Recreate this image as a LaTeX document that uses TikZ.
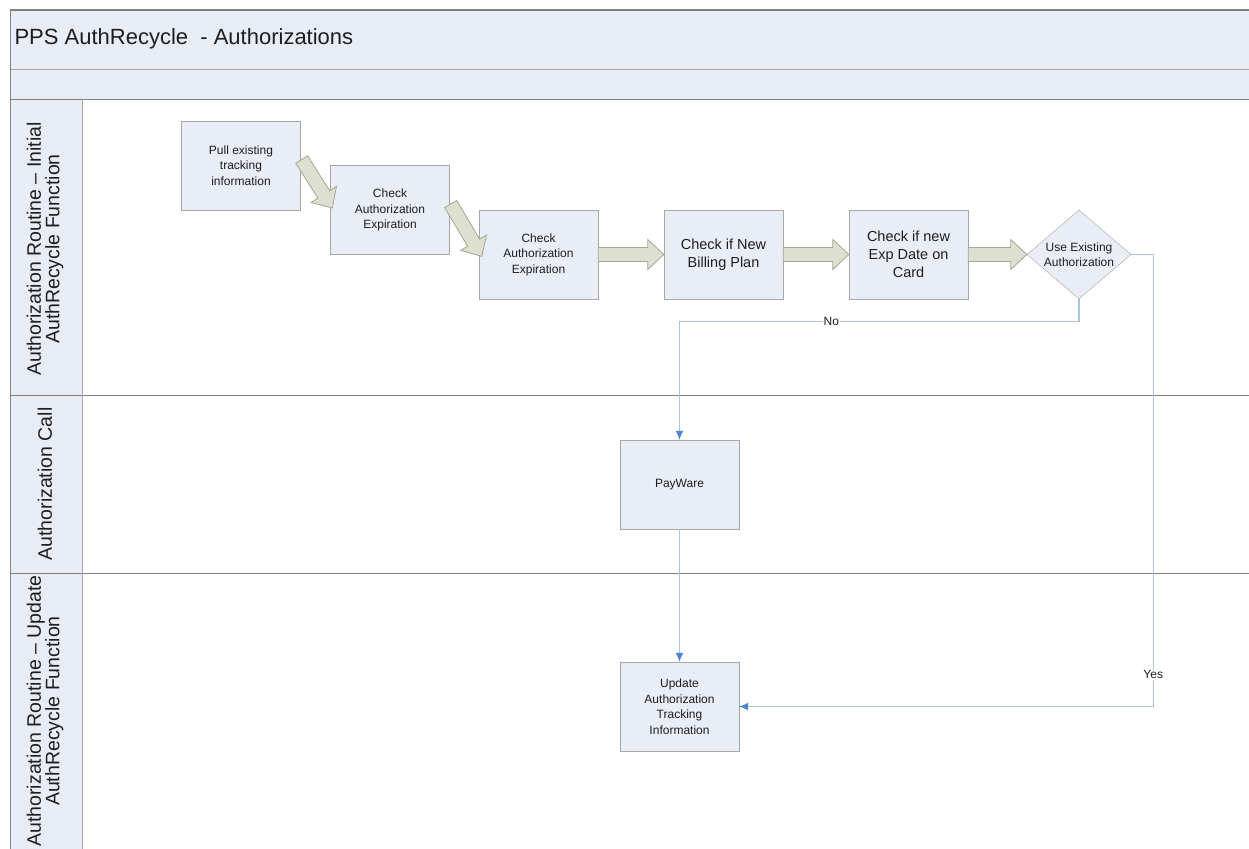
\documentclass[tikz,border=0pt]{standalone}
\usepackage{fontspec}
\setmainfont{Liberation Sans}
\usetikzlibrary{shapes.geometric,calc,arrows.meta}
\definecolor{bandfill}{HTML}{E8ECF4}
\definecolor{boxfill}{HTML}{E9EDF5}
\definecolor{boxline}{HTML}{A6A6A6}
\definecolor{laneline}{HTML}{808080}
\definecolor{conline}{HTML}{A9C4E4}
\definecolor{conhead}{HTML}{4F87CC}
\definecolor{blkfill}{HTML}{DDE0CE}
\definecolor{blkline}{HTML}{A3A595}
\definecolor{txt}{HTML}{1E1E1E}
\newcommand\blockarrow[2]{%
  \draw[blockarr] let \p1=(#1), \p2=(#2), \n1={atan2(\y2-\y1,\x2-\x1)}, \n2={veclen(\x2-\x1,\y2-\y1)} in
   {[shift={(\p1)}, rotate=\n1] (0,-7) -- (\n2-16,-7) -- (\n2-16,-15) -- (\n2,0) -- (\n2-16,15) -- (\n2-16,7) -- (0,7) -- cycle};}
\begin{document}
\begin{tikzpicture}[x=1pt,y=-1pt,
  procbox/.style={draw=boxline, fill=boxfill, minimum width=119pt, minimum height=89pt, inner sep=2pt, align=center, text=txt, font=\fontsize{12}{15.5}\selectfont},
  bigtext/.style={font=\fontsize{14.5}{18}\selectfont},
  lanelbl/.style={rotate=90, align=center, text=txt, font=\fontsize{19.5}{18.5}\selectfont},
  blockarr/.style={draw=blkline, fill=blkfill, line width=0.8pt, line join=miter},
  conn/.style={draw=conline, line width=1.1pt, -{Latex[length=9pt,width=8pt,color=conhead,fill=conhead]}},
  connlbl/.style={fill=white, inner sep=1pt, text=txt, font=\fontsize{12}{14}\selectfont}]
\useasboundingbox (0,0) rectangle (1249,848);
% pool frame
\path[fill=bandfill] (10,10) rectangle (1260,99);
\path[fill=bandfill] (10,99) rectangle (82,880);
\draw[laneline, line width=1.5pt] (10,10) -- (1260,10);
\draw[boxline] (10,69) -- (1260,69);
\draw[laneline] (10,99) -- (1260,99);
\draw[laneline] (10,395) -- (1260,395);
\draw[laneline] (10,573) -- (1260,573);
\draw[boxline] (82,99) -- (82,880);
\draw[laneline] (10,10) -- (10,880);
\node[anchor=west, text=txt, font=\fontsize{22}{26}\selectfont] (title) at (11,39) {PPS AuthRecycle\ \ - Authorizations};
% lane labels
\node[lanelbl] (lane1) at (45,249) {Authorization Routine – Initial\\AuthRecycle Function};
\node[lanelbl] (lane2) at (45,484) {Authorization Call};
\node[lanelbl] (lane3) at (45,711) {Authorization Routine – Update\\AuthRecycle Function};
% process boxes
\node[procbox] (pull) at (241,165.5) {Pull existing\\tracking\\information};
\node[procbox] (check1) at (390,210) {Check\\Authorization\\Expiration};
\node[procbox] (check2) at (538.5,254.5) {Check\\Authorization\\Expiration};
\node[procbox, bigtext] (billing) at (723.5,254.5) {Check if New\\Billing Plan};
\node[procbox, bigtext] (expdate) at (908.5,254.5) {Check if new\\Exp Date on\\Card};
\node[diamond, draw=boxline, fill=boxfill, minimum width=104pt, minimum height=89pt, inner sep=0pt] (dia) at (1079,254.5) {};
\node[align=center, text=txt, inner sep=0pt, font=\fontsize{12}{14.5}\selectfont] (dialbl) at (dia) {Use Existing\\Authorization};
\node[procbox] (payware) at (679.5,484.5) {PayWare};
\node[procbox] (update) at (679.5,706.5) {Update\\Authorization\\Tracking\\Information};
% block arrows
\coordinate (a1s) at ([xshift=1pt,yshift=6pt]pull.east);
\coordinate (a1e) at ([xshift=2pt,yshift=2pt]check1.west);
\coordinate (a2s) at ([xshift=1pt,yshift=6pt]check1.east);
\coordinate (a2e) at ([xshift=3pt,yshift=-2pt]check2.west);
\blockarrow{a1s}{a1e}
\blockarrow{a2s}{a2e}
\blockarrow{check2.east}{billing.west}
\blockarrow{billing.east}{expdate.west}
\blockarrow{expdate.east}{dia.west}
% connectors
\draw[conn] (dia.south) -- ++(0,22) -| node[connlbl, pos=0.31] (nolbl) {No} (payware.north);
\draw[conn] (payware.south) -- (update.north);
\draw[conn] (dia.east) -- ++(22,0) |- node[connlbl, pos=0.465] (yeslbl) {Yes} (update.east);
\end{tikzpicture}
\end{document}
